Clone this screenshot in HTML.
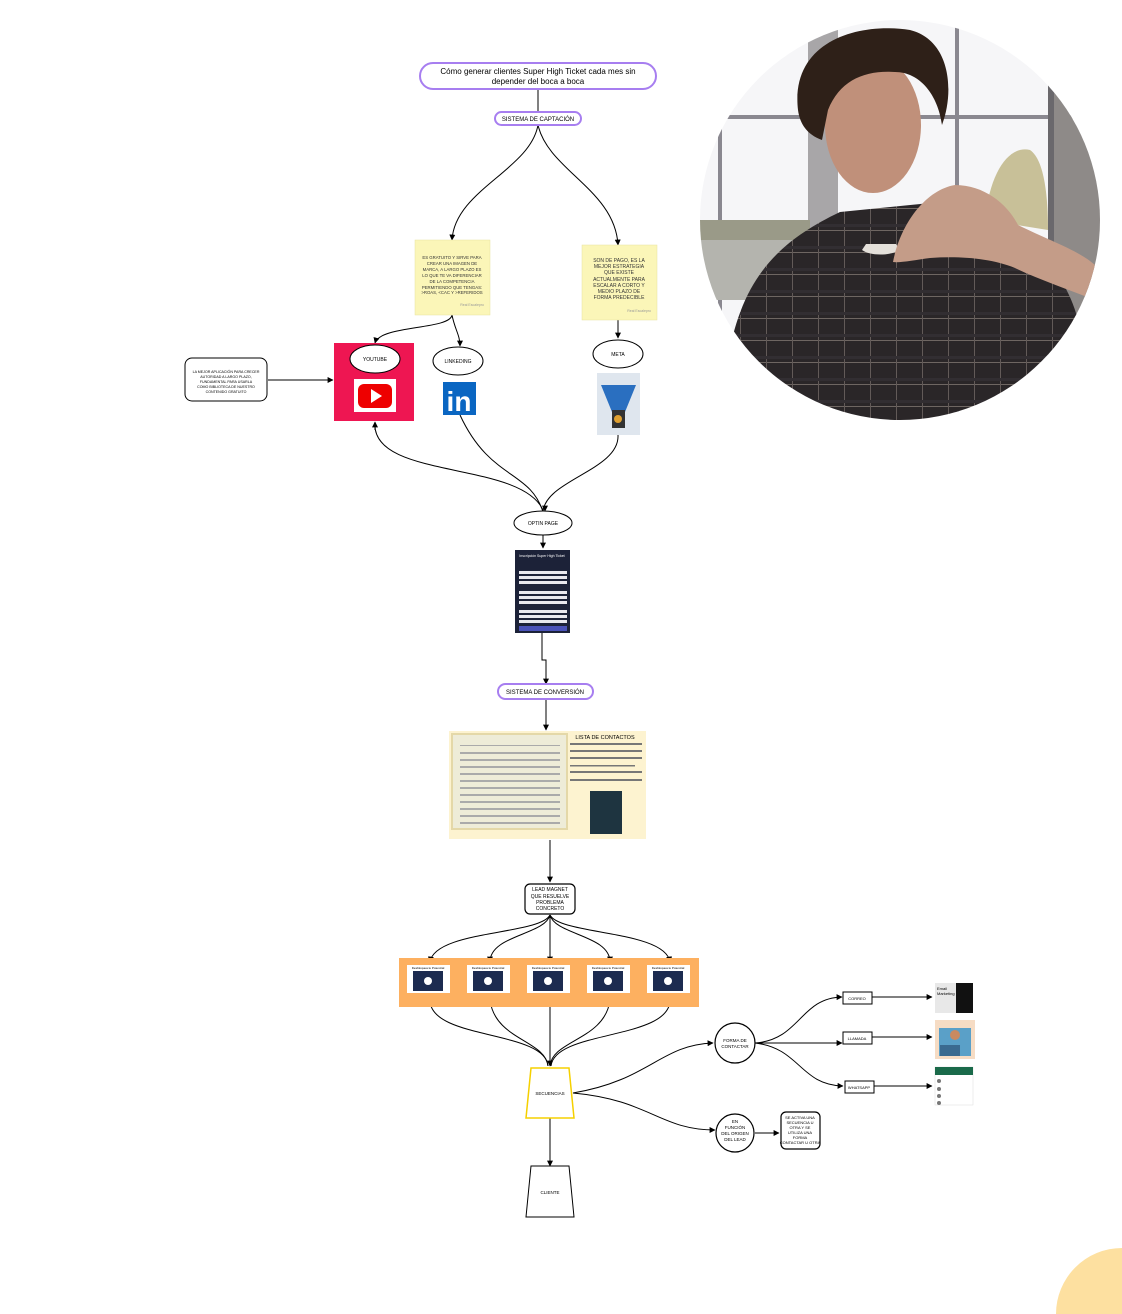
<!DOCTYPE html>
<html><head><meta charset="utf-8"><style>
html,body{margin:0;padding:0;background:#fff;width:1122px;height:1314px;overflow:hidden;}
svg{display:block;font-family:"Liberation Sans",sans-serif;}
</style></head><body>
<svg width="1122" height="1314" viewBox="0 0 1122 1314" xmlns="http://www.w3.org/2000/svg">
<defs>
<marker id="a" viewBox="0 0 10 10" refX="9" refY="5" markerWidth="6" markerHeight="6" orient="auto"><path d="M0,0L10,5L0,10z" fill="#000"/></marker>
<clipPath id="cc"><circle cx="900" cy="220" r="200"/></clipPath>
<pattern id="pl" width="26" height="22" patternUnits="userSpaceOnUse"><rect width="26" height="22" fill="#2a2628"/><rect x="0" y="10" width="26" height="1" fill="#6e6662"/><rect x="12" y="0" width="1" height="22" fill="#625a58"/><rect x="0" y="4" width="26" height="3" fill="#322e32"/></pattern>
</defs>
<g fill="none" stroke="#000" stroke-width="1">
<path d="M538,89 V112"/>
<path d="M538,125 C530,170 455,190 452,240" marker-end="url(#a)"/>
<path d="M538,125 C548,170 615,190 618,245" marker-end="url(#a)"/>
<path d="M452,315 C450,330 380,325 375,343" marker-end="url(#a)"/>
<path d="M452,315 C455,330 460,335 460,346" marker-end="url(#a)"/>
<path d="M618,320 V338" marker-end="url(#a)"/>
<path d="M268,380 H333" marker-end="url(#a)"/>
<path d="M375,422 C370,480 520,460 543,510"/>
<path d="M543,512 C530,470 490,480 460,415"/>
<path d="M543,512 C545,480 620,470 618,435"/>
<path d="M545,510 V511" marker-end="url(#a)"/>
<path d="M375,430 V422" marker-end="url(#a)"/>
<path d="M543,535 V548" marker-end="url(#a)"/>
<path d="M542,633 V660 H546 V684" marker-end="url(#a)"/>
<path d="M546,700 V730" marker-end="url(#a)"/>
<path d="M550,840 V882" marker-end="url(#a)"/>
<path d="M550,915 C540,935 435,930 430,962" marker-end="url(#a)"/>
<path d="M550,915 C545,935 490,935 490,962" marker-end="url(#a)"/>
<path d="M550,915 V962" marker-end="url(#a)"/>
<path d="M550,915 C555,935 610,935 610,962" marker-end="url(#a)"/>
<path d="M550,915 C560,935 665,930 670,962" marker-end="url(#a)"/>
<path d="M430,1000 C430,1040 545,1030 548,1066"/>
<path d="M490,1000 C495,1040 545,1040 548,1066"/>
<path d="M550,1000 V1066" marker-end="url(#a)"/>
<path d="M610,1000 C605,1040 552,1040 550,1066"/>
<path d="M670,1000 C670,1040 555,1030 551,1066"/>
<path d="M573,1093 C650,1080 660,1045 713,1043" marker-end="url(#a)"/>
<path d="M573,1093 C650,1100 660,1130 715,1130" marker-end="url(#a)"/>
<path d="M755,1043 C800,1040 800,998 842,997" marker-end="url(#a)"/>
<path d="M755,1043 H842" marker-end="url(#a)"/>
<path d="M755,1043 C800,1048 800,1085 843,1086" marker-end="url(#a)"/>
<path d="M872,997 H932" marker-end="url(#a)"/>
<path d="M872,1037 H932" marker-end="url(#a)"/>
<path d="M874,1086 H932" marker-end="url(#a)"/>
<path d="M755,1133 H779" marker-end="url(#a)"/>
<path d="M550,1118 V1166" marker-end="url(#a)"/>
</g>
<rect x="420" y="63" width="236" height="26" rx="13" fill="#fff" stroke="#a77ef0" stroke-width="2"/>
<text x="538" y="74" font-size="8" text-anchor="middle">Cómo generar clientes Super High Ticket cada mes sin</text>
<text x="538" y="84" font-size="8" text-anchor="middle">depender del boca a boca</text>
<rect x="495" y="112" width="86" height="13" rx="6.5" fill="#fff" stroke="#a77ef0" stroke-width="2"/>
<text x="538" y="121" font-size="6" text-anchor="middle">SISTEMA DE CAPTACIÓN</text>
<rect x="415" y="240" width="75" height="75" fill="#fbf6b8" stroke="#e8e2a0" stroke-width=".5"/>
<g font-size="4.3" text-anchor="middle" fill="#333"><text x="452" y="259">ES GRATUITO Y SIRVE PARA</text><text x="452" y="265">CREAR UNA IMAGEN DE</text><text x="452" y="271">MARCA, A LARGO PLAZO ES</text><text x="452" y="277">LO QUE TE VA DIFERENCIAR</text><text x="452" y="283">DE LA COMPETENCIA</text><text x="452" y="289">PERMITIENDO QUE TENGAS:</text><text x="452" y="294">&gt;ROAS, &lt;CAC Y &gt;REFERIDOS</text><text x="484" y="306" text-anchor="end" fill="#999" font-size="3.5">Real Escalepro</text></g>
<rect x="582" y="245" width="75" height="75" fill="#fbf6b8" stroke="#e8e2a0" stroke-width=".5"/>
<g font-size="5" text-anchor="middle" fill="#333"><text x="619" y="262">SON DE PAGO, ES LA</text><text x="619" y="268">MEJOR ESTRATEGIA</text><text x="619" y="274">QUE EXISTE</text><text x="619" y="281">ACTUALMENTE PARA</text><text x="619" y="287">ESCALAR A CORTO Y</text><text x="619" y="293">MEDIO PLAZO DE</text><text x="619" y="299">FORMA PREDECIBLE</text><text x="651" y="312" text-anchor="end" fill="#999" font-size="3.5">Real Escalepro</text></g>
<rect x="334" y="343" width="80" height="78" fill="#ee1652"/>
<ellipse cx="375" cy="359" rx="25" ry="14" fill="#fff" stroke="#000"/>
<text x="375" y="361" font-size="5" text-anchor="middle">YOUTUBE</text>
<rect x="354" y="379" width="42" height="33" fill="#fff"/>
<rect x="358" y="384" width="34" height="24" rx="6" fill="#e00"/>
<path d="M371,389 L382,396 L371,403z" fill="#fff"/>
<rect x="185" y="358" width="82" height="43" rx="7" fill="#fff" stroke="#000"/>
<g font-size="3.6" text-anchor="middle"><text x="226" y="373">LA MEJOR APLICACIÓN PARA CRECER</text><text x="226" y="378">AUTORIDAD A LARGO PLAZO,</text><text x="226" y="383">FUNDAMENTAL PARA USARLA</text><text x="226" y="388">COMO BIBLIOTECA DE NUESTRO</text><text x="226" y="393">CONTENIDO GRATUITO</text></g>
<ellipse cx="458" cy="361" rx="25" ry="14" fill="#fff" stroke="#000"/>
<text x="458" y="363" font-size="5" text-anchor="middle">LINKEDING</text>
<rect x="443" y="382" width="33" height="33" fill="#0a66c2"/>
<text x="459" y="411" font-size="28" font-weight="bold" fill="#fff" text-anchor="middle">in</text>
<ellipse cx="618" cy="354" rx="25" ry="14" fill="#fff" stroke="#000"/>
<text x="618" y="356" font-size="5" text-anchor="middle">META</text>
<rect x="597" y="373" width="43" height="62" fill="#dfe6ee"/>
<path d="M601,385 H636 L625,412 H612z" fill="#2a6fc0"/>
<rect x="612" y="410" width="13" height="18" fill="#333"/>
<circle cx="618" cy="419" r="4" fill="#e0a030"/>
<ellipse cx="543" cy="523" rx="29" ry="12" fill="#fff" stroke="#000"/>
<text x="543" y="525" font-size="5" text-anchor="middle">OPTIN PAGE</text>
<rect x="515" y="550" width="55" height="83" fill="#1c2238"/>
<text x="542" y="557" font-size="3.5" fill="#fff" text-anchor="middle">Inscripción Super High Ticket</text>
<g fill="#e8e8ee"><rect x="519" y="571" width="48" height="3"/><rect x="519" y="576" width="48" height="3"/><rect x="519" y="581" width="48" height="3"/><rect x="519" y="591" width="48" height="3"/><rect x="519" y="596" width="48" height="3"/><rect x="519" y="601" width="48" height="3"/><rect x="519" y="610" width="48" height="3"/><rect x="519" y="615" width="48" height="3"/><rect x="519" y="620" width="48" height="3"/></g>
<rect x="519" y="626" width="48" height="5" fill="#4a52b8"/>
<rect x="498" y="684" width="95" height="15" rx="7.5" fill="#fff" stroke="#a77ef0" stroke-width="2"/>
<text x="545" y="694" font-size="6" text-anchor="middle">SISTEMA DE CONVERSIÓN</text>
<rect x="449" y="731" width="197" height="108" fill="#fdf3d0"/>
<rect x="452" y="734" width="115" height="95" fill="#eeecd8" stroke="#e4d8a8" stroke-width="2"/>
<g fill="#aaa"><rect x="460" y="745" width="100" height="1"/><rect x="460" y="752" width="100" height="2"/><rect x="460" y="759" width="100" height="2"/><rect x="460" y="766" width="100" height="2"/><rect x="460" y="773" width="100" height="2"/><rect x="460" y="780" width="100" height="2"/><rect x="460" y="787" width="100" height="2"/><rect x="460" y="794" width="100" height="2"/><rect x="460" y="801" width="100" height="2"/><rect x="460" y="808" width="100" height="2"/><rect x="460" y="815" width="100" height="2"/><rect x="460" y="822" width="100" height="2"/></g>
<text x="605" y="739" font-size="5.5" text-anchor="middle">LISTA DE CONTACTOS</text>
<g fill="#777"><rect x="570" y="743" width="72" height="2"/><rect x="570" y="750" width="72" height="2"/><rect x="570" y="757" width="72" height="2"/><rect x="570" y="765" width="65" height="1.5"/><rect x="570" y="771" width="72" height="2"/><rect x="570" y="779" width="72" height="2"/></g>
<rect x="590" y="791" width="32" height="43" fill="#1e3440"/>
<rect x="525" y="884" width="50" height="30" rx="5" fill="#fff" stroke="#000" stroke-width="1.2"/>
<g font-size="5" text-anchor="middle"><text x="550" y="891">LEAD MAGNET</text><text x="550" y="898">QUE RESUELVE</text><text x="550" y="904">PROBLEMA</text><text x="550" y="910">CONCRETO</text></g>
<rect x="399" y="958" width="300" height="49" fill="#fdb060"/>
<g id="v"><rect x="407" y="965" width="43" height="28" fill="#fff"/><rect x="413" y="971" width="30" height="20" fill="#1c2b50"/><circle cx="428" cy="981" r="4" fill="#fff"/><text x="428" y="969" font-size="3" text-anchor="middle">Desbloquea tu Potencial</text></g>
<use href="#v" x="60"/><use href="#v" x="120"/><use href="#v" x="180"/><use href="#v" x="240"/>
<path d="M531,1068 H569 L574,1118 H526z" fill="#fff" stroke="#f5d000" stroke-width="1.5"/>
<text x="550" y="1095" font-size="4.5" text-anchor="middle">SECUENCIAS</text>
<path d="M531,1166 H569 L574,1217 H526z" fill="#fff" stroke="#000"/>
<text x="550" y="1194" font-size="4.5" text-anchor="middle">CLIENTE</text>
<circle cx="735" cy="1043" r="20" fill="#fff" stroke="#000" stroke-width="1.2"/>
<text x="735" y="1042" font-size="4.5" text-anchor="middle">FORMA DE</text><text x="735" y="1048" font-size="4.5" text-anchor="middle">CONTACTAR</text>
<circle cx="735" cy="1133" r="19" fill="#fff" stroke="#000" stroke-width="1.2"/>
<g font-size="4.5" text-anchor="middle"><text x="735" y="1123">EN</text><text x="735" y="1129">FUNCIÓN</text><text x="735" y="1135">DEL ORIGEN</text><text x="735" y="1141">DEL LEAD</text></g>
<rect x="781" y="1112" width="39" height="37" rx="5" fill="#fff" stroke="#000" stroke-width="1.2"/>
<g font-size="4" text-anchor="middle"><text x="800" y="1119">SE ACTIVA UNA</text><text x="800" y="1124">SECUENCIA U</text><text x="800" y="1129">OTRA Y SE</text><text x="800" y="1134">UTILIZA UNA</text><text x="800" y="1139">FORMA</text><text x="800" y="1144">CONTACTAR U OTRA</text></g>
<rect x="843" y="992" width="29" height="12" fill="#fff" stroke="#000"/><text x="857" y="1000" font-size="4" text-anchor="middle">CORREO</text>
<rect x="843" y="1032" width="29" height="12" fill="#fff" stroke="#000"/><text x="857" y="1040" font-size="4" text-anchor="middle">LLAMADA</text>
<rect x="845" y="1081" width="29" height="12" fill="#fff" stroke="#000"/><text x="859" y="1089" font-size="4" text-anchor="middle">WHATSAPP</text>
<rect x="935" y="983" width="22" height="30" fill="#e8e8e8"/><rect x="956" y="983" width="17" height="30" fill="#111"/><text x="937" y="990" font-size="4">Email</text><text x="937" y="995" font-size="4">Marketing</text>
<rect x="935" y="1020" width="40" height="39" fill="#f6dcc4"/><rect x="939" y="1028" width="32" height="28" fill="#5aa0c8"/><circle cx="955" cy="1035" r="5" fill="#c98a60"/><rect x="940" y="1045" width="20" height="11" fill="#3a6a90"/>
<rect x="935" y="1067" width="38" height="38" fill="#fff" stroke="#ddd" stroke-width=".5"/><rect x="935" y="1067" width="38" height="8" fill="#1a6a4a"/><g fill="#777"><circle cx="939" cy="1081" r="2"/><circle cx="939" cy="1089" r="2"/><circle cx="939" cy="1096" r="2"/><circle cx="939" cy="1103" r="2"/></g>
<g clip-path="url(#cc)">
<rect x="700" y="20" width="400" height="400" fill="#f6f6f8"/>
<rect x="700" y="115" width="400" height="4" fill="#8a8890"/>
<rect x="718" y="20" width="4" height="400" fill="#8a8890"/>
<rect x="808" y="20" width="30" height="400" fill="#a8a6a8"/>
<rect x="955" y="20" width="4" height="400" fill="#8a8890"/>
<rect x="1048" y="20" width="6" height="400" fill="#6a686c"/>
<rect x="1054" y="20" width="50" height="400" fill="#8e8a88"/>
<path d="M985,220 C990,170 1010,145 1030,150 C1045,160 1048,200 1048,230z" fill="#c8c098"/>
<rect x="700" y="220" width="110" height="20" fill="#9a9a88"/>
<rect x="700" y="240" width="110" height="60" fill="#b4b4ae"/>
<path d="M722,430 C725,300 760,250 840,212 L960,200 C1020,225 1070,270 1080,330 L1100,430z" fill="url(#pl)"/>
<path d="M862,250 C870,256 890,256 900,250 L896,244 H866z" fill="#e4e0da"/>
<path d="M893,262 C900,225 925,190 955,185 C985,185 1008,205 1018,225 C1048,240 1078,250 1095,265 L1095,300 C1070,290 1040,280 1015,268 C990,258 960,256 930,258 C915,260 900,263 893,262z" fill="#c49c88"/>
<ellipse cx="873" cy="125" rx="48" ry="68" fill="#c0907a"/>
<path d="M798,110 C790,40 860,22 910,30 C950,40 955,90 942,125 C938,95 920,72 895,72 C865,70 840,80 828,110 L822,140 C808,135 800,125 798,110z" fill="#2e2018"/>
</g>
<circle cx="1122" cy="1314" r="66" fill="#fde0a0"/>
</svg>
</body></html>
